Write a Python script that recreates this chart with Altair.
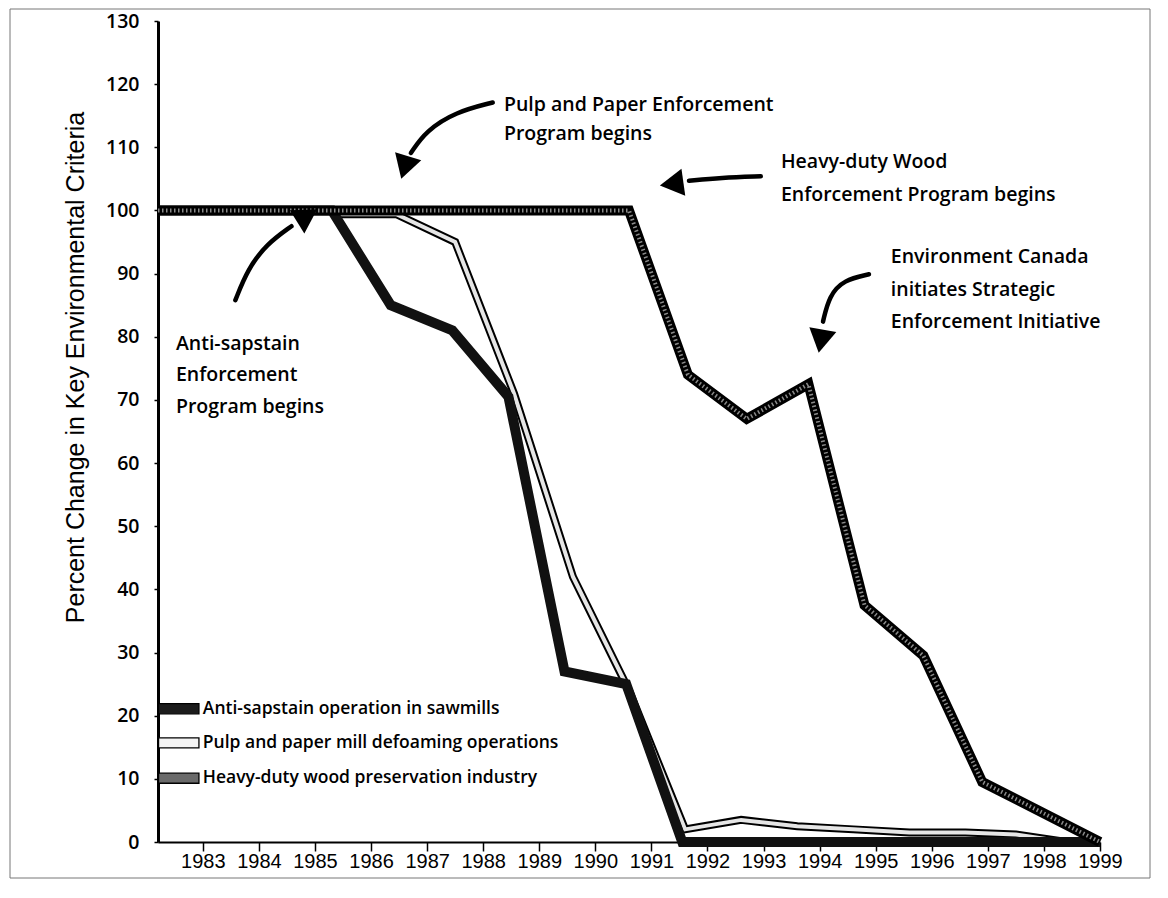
import altair as alt
import pandas as pd

# ---- data ----
series_names = [
    "Anti-sapstain operation in sawmills",
    "Pulp and paper mill defoaming operations",
    "Heavy-duty wood preservation industry",
]

anti_years = [1982.2, 1985.3, 1986.35, 1987.45, 1988.45, 1989.45, 1990.55, 1991.55, 1999.0]
anti_vals = [100, 100, 85, 81, 70.5, 27, 25, 0, 0]

pulp_years = [1985.3, 1986.45, 1987.5, 1988.55, 1989.6, 1990.6, 1991.6, 1992.6, 1993.6,
              1994.6, 1995.6, 1996.6, 1997.5, 1998.4, 1999.0]
pulp_vals = [99.4, 99.4, 95, 71, 42, 24, 2, 3.5, 2.5, 2, 1.5, 1.5, 1.2, 0, 0]

heavy_years = [1982.2, 1990.6, 1991.65, 1992.7, 1993.8, 1994.8, 1995.85, 1996.9, 1999.0]
heavy_vals = [100, 100, 74, 67, 72.5, 37.5, 29.5, 9.5, 0]

year_ticks = list(range(1983, 2000))
value_ticks = list(range(0, 131, 10))

ann_text = [
    "Pulp and Paper Enforcement", "Program begins",
    "Heavy-duty Wood", "Enforcement Program begins",
    "Environment Canada", "initiates Strategic", "Enforcement Initiative",
    "Anti-sapstain", "Enforcement", "Program begins",
]
ann_year = [1988.37, 1988.37, 1993.31, 1993.31, 1995.27, 1995.27, 1995.27,
            1982.52, 1982.52, 1982.52]
ann_value = [116.7, 112.1, 107.7, 102.4, 92.6, 87.4, 82.4, 78.9, 73.9, 68.9]

arrow_id = [1, 1, 1, 1, 2, 2, 2, 3, 3, 3, 3, 4, 4, 4, 4]
arrow_year = [1988.17, 1987.51, 1986.98, 1986.71,
              1992.95, 1992.24, 1991.67,
              1994.88, 1994.43, 1994.17, 1994.06,
              1983.58, 1983.80, 1984.14, 1984.58]
arrow_value = [117.1, 115.6, 112.6, 109.1,
               105.4, 105.2, 104.7,
               89.9, 89.0, 86.5, 82.4,
               85.8, 90.7, 94.7, 97.5]

head_year = [1986.60, 1991.36, 1994.02, 1984.86]
head_value = [106.8, 104.2, 79.3, 99.2]
head_angle = [197, 262, 190, 58]

# legend rows (position in data units, inside the plot's lower-left corner)
legend_value = [21.1, 15.7, 10.1]
legend_fill = ["#1c1c1c", "#f4f4f4", "#6a6a6a"]
legend_x0, legend_x1, legend_text_x = 1982.21, 1982.93, 1983.0

# ---- tables ----
rows = []
for name, ys, vs in zip(series_names, [anti_years, pulp_years, heavy_years],
                        [anti_vals, pulp_vals, heavy_vals]):
    for i, (yr, v) in enumerate(zip(ys, vs)):
        rows.append({"series": name, "year": yr, "value": v, "order": i})
lines = pd.DataFrame(rows)
ann = pd.DataFrame({"year": ann_year, "value": ann_value, "text": ann_text})
arrows = pd.DataFrame({"id": arrow_id, "year": arrow_year, "value": arrow_value,
                       "order": list(range(len(arrow_id)))})
heads = pd.DataFrame({"year": head_year, "value": head_value, "angle": head_angle})
leg = pd.DataFrame({
    "series": series_names,
    "year": [legend_x0] * 3, "year2": [legend_x1] * 3, "tx": [legend_text_x] * 3,
    "value": [v - 0.8 for v in legend_value], "value2": [v + 0.8 for v in legend_value],
    "vmid": legend_value, "fill": legend_fill,
})

XS = alt.Scale(domain=[1982.2, 1999], nice=False, zero=False)
YS = alt.Scale(domain=[0, 130], nice=False)

X = alt.X("year:Q", scale=XS,
          axis=alt.Axis(values=year_ticks, format="d", title=None, grid=False,
                        domainWidth=2, tickSize=9, tickWidth=1.5, labelPadding=0,
                        labelFont="Liberation Sans", labelFontSize=20,
                        labelFlush=False, labelOverlap=False))
Y = alt.Y("value:Q", scale=YS,
          axis=alt.Axis(values=value_ticks, title="Percent Change in Key Environmental Criteria",
                        grid=False, domainWidth=3, tickSize=4, tickWidth=1.5,
                        labelFont="Open Sans", labelFontSize=19.5, labelFontWeight=600,
                        labelPadding=15, titleFont="Liberation Sans",
                        titleFontSize=25, titleFontWeight="normal",
                        titleX=-83, titleY=346, titleAngle=270,
                        titleAlign="center", titleBaseline="middle"))

base = alt.Chart(lines)

def sel(name):
    return base.transform_filter(alt.datum.series == name)

pulp_outer = sel(series_names[1]).mark_line(color="black", strokeWidth=8, strokeJoin="miter").encode(
    x=X, y=Y, order="order:Q")
pulp_inner = sel(series_names[1]).mark_line(color="#e6e6e6", strokeWidth=4, strokeJoin="miter").encode(
    x=X, y=Y, order="order:Q")
anti = sel(series_names[0]).mark_line(color="#111111", strokeWidth=10, strokeJoin="miter").encode(
    x=X, y=Y, order="order:Q")
heavy_outer = sel(series_names[2]).mark_line(color="black", strokeWidth=10, strokeJoin="miter").encode(
    x=X, y=Y, order="order:Q")
heavy_inner = sel(series_names[2]).mark_line(color="#8a8a8a", strokeWidth=4, strokeJoin="miter",
                                              strokeDash=[1.5, 2.5]).encode(
    x=X, y=Y, order="order:Q")

legend_rect = alt.Chart(leg).mark_rect(stroke="black", strokeWidth=1.3).encode(
    x=alt.X("year:Q", scale=XS), x2="year2:Q",
    y=alt.Y("value:Q", scale=YS), y2="value2:Q",
    fill=alt.Fill("fill:N", scale=None))
legend_text = alt.Chart(leg).mark_text(align="left", baseline="middle", font="Open Sans",
                                       fontSize=17.5, fontWeight=600, color="black").encode(
    x=alt.X("tx:Q", scale=XS), y=alt.Y("vmid:Q", scale=YS), text="series:N")

text_layer = alt.Chart(ann).mark_text(align="left", baseline="middle", font="Open Sans",
                                      fontSize=19.5, fontWeight=600, color="black").encode(
    x=X, y=Y, text="text:N")

arrow_layer = alt.Chart(arrows).mark_line(color="black", strokeWidth=4.5, interpolate="basis",
                                          strokeCap="round").encode(
    x=X, y=Y, detail="id:N", order="order:Q")

head_layer = alt.Chart(heads).mark_point(shape="triangle-up", filled=True, size=750,
                                         color="black", opacity=1).encode(
    x=X, y=Y, angle=alt.Angle("angle:Q", scale=None))

frame = alt.Chart(pd.DataFrame({"k": [0]})).mark_rect(fill=None, stroke="#777777", strokeWidth=1).encode(
    x=alt.value(-148), x2=alt.value(992), y=alt.value(-12), y2=alt.value(857))

chart = alt.layer(frame, pulp_outer, pulp_inner, anti, heavy_outer, heavy_inner,
                  arrow_layer, head_layer, text_layer, legend_rect, legend_text).properties(
    width=942, height=821,
    padding={"left": 150, "top": 13, "right": 60, "bottom": 48},
    autosize=alt.AutoSizeParams(type="none"),
).configure_view(stroke=None).configure_axis(
    domainColor="black", tickColor="black", labelColor="black", titleColor="black")

chart.save("out.html", embed_options={"renderer": "svg", "actions": False})
